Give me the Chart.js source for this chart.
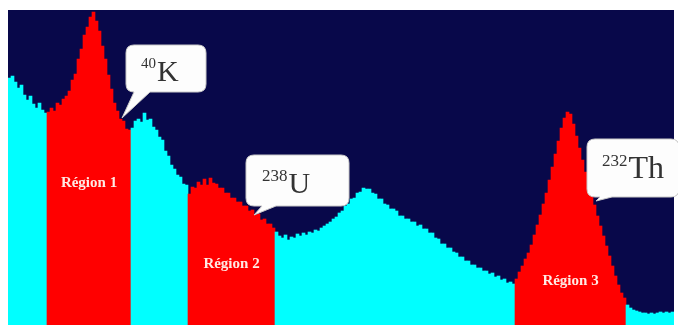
<!DOCTYPE html>
<html>
<head>
<meta charset="utf-8">
<script src="https://cdn.jsdelivr.net/npm/chart.js@4/dist/chart.umd.min.js"></script>
<style>
  html, body { margin: 0; padding: 0; background: #ffffff; }
  canvas { display: block; }
</style>
</head>
<body>
<canvas id="spectrum" width="678" height="327"></canvas>
<script>
// Gamma-ray spectrum: counts per channel group (222 channel groups)
const counts = [
  // low-energy continuum
  247, 249, 243, 237, 240, 230, 225, 229, 221, 217, 222, 215, 212,
  // 40K photopeak window
  213, 217, 214, 222, 220, 226, 229, 234, 245, 251, 266, 276, 290, 298, 308,
  313, 304, 294, 279, 266, 250, 236, 222, 214, 206, 204, 196, 195,
  // continuum
  197, 204, 206, 203, 212, 205, 206, 198, 195, 188, 185, 174, 169, 160, 156, 150, 148, 141, 140,
  // 238U (214Bi) window
  131, 138, 137, 143, 140, 146, 140, 147, 142, 141, 137, 137, 132, 132, 127,
  127, 123, 123, 119, 119, 114, 115, 110, 111, 105, 106, 101, 101, 97,
  // continuum with Compton bump
  93, 89, 87, 90, 85, 88, 87, 91, 89, 92,
  90, 93, 92, 95, 94, 97, 99, 101, 103, 106,
  108, 112, 114, 119, 121, 126, 127, 132, 133, 137,
  136, 136, 132, 131, 126, 126, 121, 120, 116, 116,
  114, 109, 109, 106, 106, 103, 103, 99, 100, 96,
  96, 92, 92, 87, 86, 81, 81, 77, 77, 73,
  72, 68, 68, 64, 64, 60, 60, 57, 57, 54,
  54, 51, 52, 48, 49, 45, 46, 42, 43, 41,
  // 232Th (208Tl) window
  46, 53, 59, 66, 72, 80, 90, 100, 110, 121,
  132, 145, 158, 171, 184, 197, 207, 213, 211, 201,
  189, 177, 165, 153, 142, 131, 120, 109, 99, 89,
  79, 69, 59, 49, 40, 32, 27,
  // high-energy tail
  20, 17, 15, 14, 13, 12, 12, 11, 12, 11, 12, 13, 12, 13, 12, 13
];

const channels = counts.map((_, i) => i + 1);

// Energy windows (first and last channel group index)
const regionNames = ['Région 1', 'Région 2', 'Région 3'];
const regionStart = [13, 60, 169];
const regionEnd   = [40, 88, 205];
const regionLabelLevel = [142, 61, 44];

// Nuclide call-outs: mass number, symbol
const nuclideMass   = ['40', '238', '232'];
const nuclideSymbol = ['K', 'U', 'Th'];

const NAVY = '#08084a';
const CYAN = '#00ffff';
const RED  = '#ff0000';

function inRegion(i) {
  for (let r = 0; r < regionStart.length; r++) {
    if (i >= regionStart[r] && i <= regionEnd[r]) return true;
  }
  return false;
}

const barColors = counts.map((_, i) => inRegion(i) ? RED : CYAN);

// Speech-bubble geometry (pixels): box and tail
const bubbles = [
  { x: 126, y: 45, w: 80, h: 47, tailA: 134, tailB: 150, tipX: 122, tipY: 118,
    supSize: 15, mainSize: 30, textX: 141, supBase: 68, mainBase: 81 },
  { x: 246, y: 155, w: 103, h: 51, tailA: 262, tailB: 276, tipX: 254, tipY: 215,
    supSize: 17, mainSize: 30, textX: 262, supBase: 181, mainBase: 193 },
  { x: 587, y: 139, w: 92, h: 58, tailA: 600, tailB: 612, tipX: 596, tipY: 201,
    supSize: 17, mainSize: 32, textX: 602, supBase: 166, mainBase: 178 }
];

function bubblePath(ctx, b) {
  const r = 8;
  const x0 = b.x, y0 = b.y, x1 = b.x + b.w, y1 = b.y + b.h;
  ctx.beginPath();
  ctx.moveTo(x0 + r, y0);
  ctx.lineTo(x1 - r, y0);
  ctx.quadraticCurveTo(x1, y0, x1, y0 + r);
  ctx.lineTo(x1, y1 - r);
  ctx.quadraticCurveTo(x1, y1, x1 - r, y1);
  ctx.lineTo(b.tailB, y1);
  ctx.lineTo(b.tipX, b.tipY);
  ctx.lineTo(b.tailA, y1);
  ctx.lineTo(x0 + r, y1);
  ctx.quadraticCurveTo(x0, y1, x0, y1 - r);
  ctx.lineTo(x0, y0 + r);
  ctx.quadraticCurveTo(x0, y0, x0 + r, y0);
  ctx.closePath();
}

const plotBackground = {
  id: 'plotBackground',
  beforeDraw(chart) {
    const { ctx, chartArea: a } = chart;
    ctx.save();
    ctx.fillStyle = NAVY;
    ctx.fillRect(a.left, a.top, a.right - a.left, a.bottom - a.top);
    ctx.restore();
  }
};

const annotations = {
  id: 'annotations',
  afterDraw(chart) {
    const { ctx } = chart;
    const xs = chart.scales.x, ys = chart.scales.y;
    ctx.save();

    // window labels
    ctx.fillStyle = '#ffeae4';
    ctx.font = 'bold 15px "Liberation Serif", serif';
    ctx.textAlign = 'center';
    ctx.textBaseline = 'middle';
    regionNames.forEach((name, r) => {
      const cx = (xs.getPixelForValue(regionStart[r]) + xs.getPixelForValue(regionEnd[r])) / 2;
      ctx.fillText(name, cx, ys.getPixelForValue(regionLabelLevel[r]));
    });

    // nuclide call-outs
    bubbles.forEach((b, k) => {
      bubblePath(ctx, b);
      ctx.fillStyle = '#fdfdfd';
      ctx.fill();
      ctx.strokeStyle = '#c9c9c9';
      ctx.lineWidth = 1;
      ctx.stroke();

      ctx.fillStyle = '#333333';
      ctx.textAlign = 'left';
      ctx.textBaseline = 'alphabetic';
      ctx.font = b.supSize + 'px "Liberation Serif", serif';
      ctx.fillText(nuclideMass[k], b.textX, b.supBase);
      const sw = ctx.measureText(nuclideMass[k]).width;
      ctx.font = b.mainSize + 'px "Liberation Serif", serif';
      ctx.fillText(nuclideSymbol[k], b.textX + sw + 1, b.mainBase);
    });
    ctx.restore();
  }
};

new Chart(document.getElementById('spectrum'), {
  type: 'bar',
  data: {
    labels: channels,
    datasets: [{
      data: counts,
      backgroundColor: barColors,
      borderWidth: 0,
      barPercentage: 1,
      categoryPercentage: 1
    }]
  },
  options: {
    responsive: false,
    devicePixelRatio: 1,
    animation: false,
    layout: { padding: { left: 8, right: 4, top: 10, bottom: 2 } },
    plugins: { legend: { display: false }, tooltip: { enabled: false } },
    scales: {
      x: { display: false, grid: { display: false } },
      y: { display: false, min: 0, max: 315, grid: { display: false } }
    }
  },
  plugins: [plotBackground, annotations]
});
</script>
</body>
</html>
